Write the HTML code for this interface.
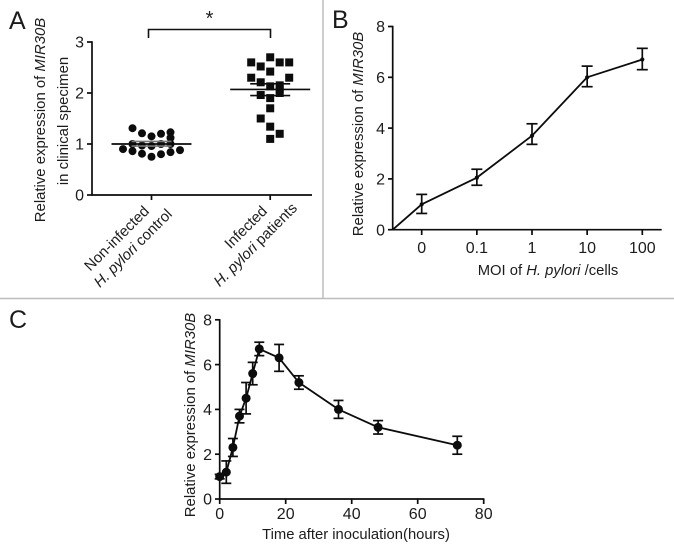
<!DOCTYPE html>
<html>
<head>
<meta charset="utf-8">
<style>
html,body{margin:0;padding:0;background:#fff;}
svg{display:block;}
text{font-family:"Liberation Sans",sans-serif;fill:#1c1c1c;}
</style>
</head>
<body>
<svg id="fig" width="674" height="553" viewBox="0 0 674 553" xmlns="http://www.w3.org/2000/svg">
<rect x="0" y="0" width="674" height="553" fill="#fff"/>
<line x1="323" y1="0" x2="323" y2="298" stroke="#bdbdbd" stroke-width="1.5"/>
<line x1="0" y1="298.5" x2="674" y2="298.5" stroke="#bdbdbd" stroke-width="1.5"/>
<text x="9" y="29" font-size="25">A</text>
<text x="332" y="28" font-size="25">B</text>
<text x="9" y="328" font-size="25">C</text>
<text transform="translate(45,120) rotate(-90)" text-anchor="middle" font-size="14.9">Relative expression of <tspan font-style="italic">MIR30B</tspan></text>
<text transform="translate(68,121) rotate(-90)" text-anchor="middle" font-size="14.9">in clinical specimen</text>
<text transform="translate(150,212) rotate(-45)" text-anchor="end" font-size="14.9">Non-infected</text>
<text transform="translate(173,215) rotate(-45)" text-anchor="end" font-size="14.9"><tspan font-style="italic">H. pylori</tspan> control</text>
<text transform="translate(268,212) rotate(-45)" text-anchor="end" font-size="14.9">Infected</text>
<text transform="translate(298,209) rotate(-45)" text-anchor="end" font-size="14.9"><tspan font-style="italic">H. pylori</tspan> patients</text>
<path d="M148.5 38V29.5H270.5V38" fill="none" stroke="#111" stroke-width="1.6"/>
<text x="209.5" y="25" text-anchor="middle" font-size="20">*</text>
<text transform="translate(363,134) rotate(-90)" text-anchor="middle" font-size="14.9">Relative expression of <tspan font-style="italic">MIR30B</tspan></text>
<text x="548" y="275" text-anchor="middle" font-size="14.8">MOI of <tspan font-style="italic">H. pylori </tspan>/cells</text>
<text transform="translate(195,415) rotate(-90)" text-anchor="middle" font-size="14.9">Relative expression of <tspan font-style="italic">MIR30B</tspan></text>
<text x="356" y="539" text-anchor="middle" font-size="14.8">Time after inoculation(hours)</text>
</svg>
<script>
// Panel A data
const aYTicks = [0, 1, 2, 3];
const aControlValues = [1.31, 1.21, 1.15, 1.2, 1.23, 1.12, 1.0, 0.97, 0.96, 1.0, 1.0, 0.9, 0.86, 0.81, 0.75, 0.8, 0.84, 0.88];
const aControlColumns = [-2, -1, 0, 1, 2, 2, -2, -1, 0, 1, 2, -3, -2, -1, 0, 1, 2, 3];
const aInfectedValues = [2.7, 2.6, 2.52, 2.6, 2.6, 2.42, 2.3, 2.3, 2.21, 2.13, 2.15, 2.07, 2.0, 1.96, 1.9, 1.7, 1.5, 1.34, 1.2, 1.1];
const aInfectedColumns = [0, -2, -1, 1, 2, 0, -2, 2, -1, 0, 1, 1, 1, -1, 0, 0, -1, 0, 1, 0];
const aMeans = [1.0, 2.07];
const aSemHigh = [1.05, 2.18];
const aSemLow = [0.96, 1.95];
// Panel B data
const bCategories = ["0", "0.1", "1", "10", "100"];
const bYTicks = [0, 2, 4, 6, 8];
const bValues = [1.0, 2.05, 3.7, 6.0, 6.7];
const bUpper = [1.39, 2.38, 4.17, 6.44, 7.14];
const bLower = [0.64, 1.75, 3.36, 5.63, 6.3];
// Panel C data
const cXTicks = [0, 20, 40, 60, 80];
const cYTicks = [0, 2, 4, 6, 8];
const cHours = [0, 2, 4, 6, 8, 10, 12, 18, 24, 36, 48, 72];
const cValues = [1.0, 1.2, 2.3, 3.7, 4.5, 5.6, 6.7, 6.3, 5.2, 4.0, 3.2, 2.4];
const cErrors = [0.1, 0.5, 0.4, 0.3, 0.7, 0.5, 0.3, 0.6, 0.3, 0.4, 0.3, 0.4];

const svg = document.getElementById('fig');
const NS = 'http://www.w3.org/2000/svg';
const INK = '#0c0c0c';

function add(tag, attrs, name, text) {
  const el = document.createElementNS(NS, tag);
  for (const k in attrs) el.setAttribute(k, attrs[k]);
  
  
  if (text !== undefined) el.textContent = text;
  svg.appendChild(el);
  return el;
}
function seg(x1, y1, x2, y2, name, w) {
  return add('line', {x1: x1, y1: y1, x2: x2, y2: y2, stroke: INK, 'stroke-width': w || 1.7}, name);
}
function polyline(points, name) {
  return add('polyline', {points: points.map(p => p.join(',')).join(' '), fill: 'none', stroke: INK, 'stroke-width': 1.8, 'stroke-linejoin': 'round'}, name);
}
function yTickLabel(x, y, v, name) {
  return add('text', {x: x, y: y + 5.7, 'text-anchor': 'end', 'font-size': 16}, name, v);
}
function xTickLabel(x, y, v, name) {
  return add('text', {x: x, y: y, 'text-anchor': 'middle', 'font-size': 16}, name, v);
}
function errorBar(x, hi, lo, cap, name) {
  seg(x, hi, x, lo, name + '-stem');
  seg(x - cap, hi, x + cap, hi, name + '-cap-top');
  seg(x - cap, lo, x + cap, lo, name + '-cap-bottom');
}

// ---- Panel A ----
const aY = v => 195 - v * 51;
const aCenter = i => 151.5 + i * 118.7;
const aX = (i, col) => aCenter(i) + col * 9.5;
seg(92, aY(3) - 0.7, 92, 195.7, 'a-y-axis');
seg(92, 195, 312, 195, 'a-x-axis');
aYTicks.forEach(v => {
  seg(87, aY(v), 92, aY(v), 'a-y-tick-' + v);
  yTickLabel(84, aY(v), v, 'a-y-tick-label-' + v);
});
[0, 1].forEach(i => {
  seg(aCenter(i), 195, aCenter(i), 200, 'a-x-tick-' + i);
});
aControlValues.forEach((v, i) => {
  add('circle', {cx: aX(0, aControlColumns[i]), cy: aY(v), r: 4, fill: INK}, 'control-point-' + i);
});
aInfectedValues.forEach((v, i) => {
  const s = 8;
  add('rect', {x: aX(1, aInfectedColumns[i]) - s / 2, y: aY(v) - s / 2, width: s, height: s, fill: INK}, 'infected-point-' + i);
});
aMeans.forEach((m, i) => {
  const c = aCenter(i);
  seg(c - 40, aY(m), c + 40, aY(m), 'a-mean-line-' + i);
  const semColor = i === 0 ? '#777' : INK;
  seg(c - 20, aY(aSemHigh[i]), c + 20, aY(aSemHigh[i]), 'a-sem-high-' + i).setAttribute('stroke', semColor);
  seg(c - 20, aY(aSemLow[i]), c + 20, aY(aSemLow[i]), 'a-sem-low-' + i).setAttribute('stroke', semColor);
});

// ---- Panel B ----
const bY = v => 229.7 - v * 25.4;
const bX = i => 421.7 + i * 55.15;
seg(392.7, bY(8) - 0.7, 392.7, 230.4, 'b-y-axis');
seg(392.7, 229.7, 661.7, 229.7, 'b-x-axis');
bYTicks.forEach(v => {
  seg(388, bY(v), 392.7, bY(v), 'b-y-tick-' + v);
  yTickLabel(385, bY(v), v, 'b-y-tick-label-' + v);
});
bCategories.forEach((c, i) => {
  seg(bX(i), 229.7, bX(i), 235, 'b-x-tick-' + c);
  xTickLabel(bX(i), 253, c, 'b-x-tick-label-' + c);
});
polyline([[392.7, bY(0)]].concat(bValues.map((v, i) => [bX(i), bY(v)])), 'b-series-line');
bValues.forEach((v, i) => {
  errorBar(bX(i), bY(bUpper[i]), bY(bLower[i]), 5.5, 'b-error-bar-' + i);
  add('circle', {cx: bX(i), cy: bY(v), r: 2.1, fill: INK}, 'b-point-' + i);
});

// ---- Panel C ----
const cY = v => 499 - v * 22.4;
const cX = h => 219.7 + h * 3.3;
seg(219.7, cY(8) - 0.7, 219.7, 499.7, 'c-y-axis');
seg(219.7, 499, cX(80) + 0.7, 499, 'c-x-axis');
cYTicks.forEach(v => {
  seg(215, cY(v), 219.7, cY(v), 'c-y-tick-' + v);
  yTickLabel(212, cY(v), v, 'c-y-tick-label-' + v);
});
cXTicks.forEach(t => {
  seg(cX(t), 499, cX(t), 504, 'c-x-tick-' + t);
  xTickLabel(cX(t), 519, t, 'c-x-tick-label-' + t);
});
polyline(cValues.map((v, i) => [cX(cHours[i]), cY(v)]), 'c-series-line');
cValues.forEach((v, i) => {
  const x = cX(cHours[i]);
  errorBar(x, cY(v + cErrors[i]), cY(v - cErrors[i]), 5, 'c-error-bar-' + i);
  add('circle', {cx: x, cy: cY(v), r: 4.5, fill: INK}, 'c-point-' + i);
});
</script>
</body>
</html>
